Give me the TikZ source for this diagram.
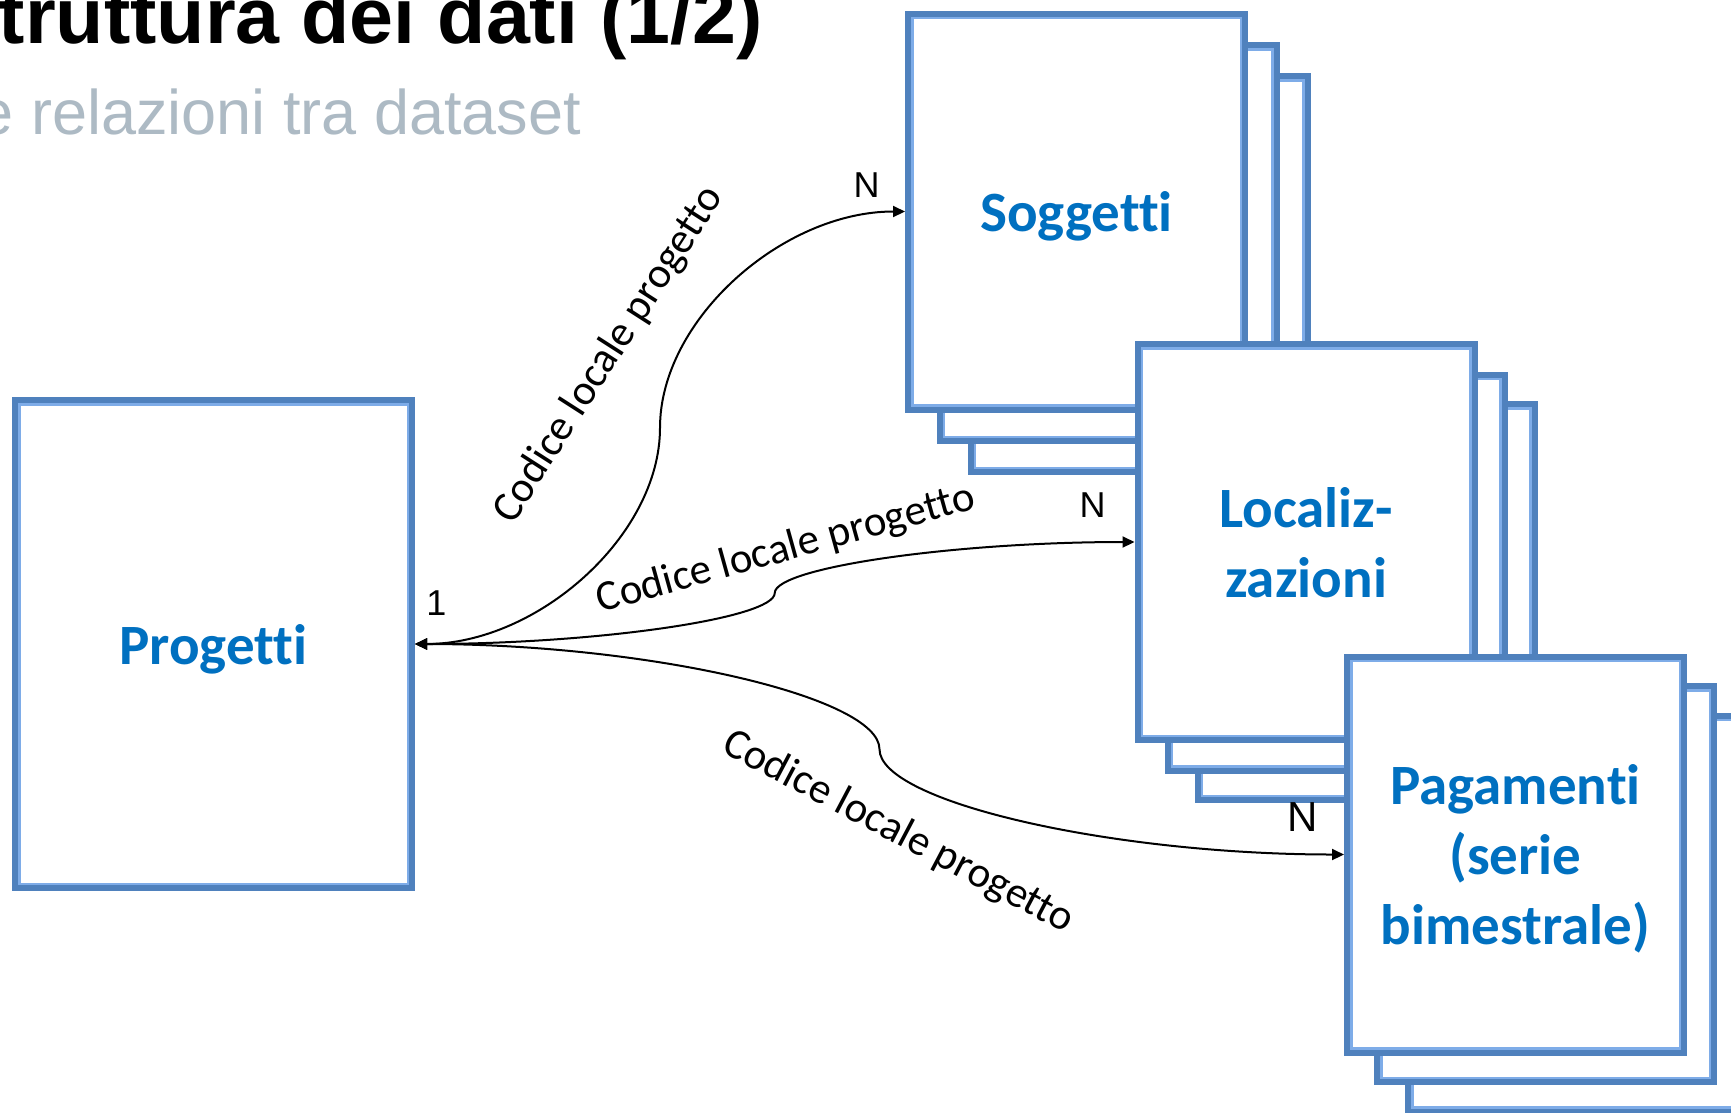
\documentclass[tikz,border=0pt]{standalone}
\usepackage{fontspec}
\usetikzlibrary{arrows.meta,calc}
\newfontfamily\carlito[Ligatures=NoCommon]{Carlito}
\newfontfamily\libsans{Liberation Sans}
\definecolor{boxdark}{RGB}{79,129,189}
\definecolor{boxlight}{RGB}{126,172,232}
\definecolor{txtblue}{RGB}{0,112,192}
\definecolor{subgrey}{RGB}{173,186,196}
\tikzset{
  dsbox/.style={draw=boxdark, line width=8pt, fill=white, outer sep=4pt, inner sep=0pt,
    minimum width=335pt, minimum height=394pt, text depth=0pt, align=center,
    font=\carlito\bfseries\fontsize{57}{70}\selectfont, text=txtblue},
  dsinner/.style={draw=boxlight, line width=2.5pt},
  conn/.style={draw=black, line width=2pt,
    {Triangle[length=12pt,width=11pt]}-{Triangle[length=12pt,width=11pt]}},
  lbl/.style={font=\carlito\fontsize{43}{50}\selectfont, inner sep=0pt},
  card/.style={font=\libsans\fontsize{36}{40}\selectfont, inner sep=0pt, text depth=0pt},
}
\newcommand\DSbox[4]{%
  \node[dsbox,#4] (#1) at (#2) {#3};
  \draw[dsinner] ([xshift=7.25pt,yshift=-7.25pt]#1.north west) rectangle ([xshift=-7.25pt,yshift=7.25pt]#1.south east);
}
\begin{document}
\begin{tikzpicture}[x=1pt,y=-1pt]
\useasboundingbox (0,0) rectangle (1731,1112);
\clip (0,0) rectangle (1731,1112);
\fill[white] (0,0) rectangle (1731,1112);

% title
\node[anchor=base west, inner sep=0pt, font=\libsans\bfseries\fontsize{79}{90}\selectfont] (title) at (-54,43) {Struttura dei dati (1/2)};
\node[anchor=base west, inner sep=0pt, text=subgrey, font=\libsans\fontsize{63}{70}\selectfont] (subtitle) at (-56.5,134) {Le relazioni tra dataset};

% Progetti
\DSbox{prog}{213.5,644}{Progetti}{minimum width=395pt, minimum height=486pt}

% Soggetti stack
\DSbox{sogg3}{1139,274}{}{}
\DSbox{sogg2}{1108,243}{}{}
\DSbox{sogg}{1076.5,211.5}{Soggetti}{}

% Localizzazioni stack
\DSbox{loc3}{1366,602}{}{}
\DSbox{loc2}{1336,572.5}{}{}
\DSbox{loc}{1306,542}{Localiz-\\zazioni}{}

% Pagamenti stack
\DSbox{pag3}{1576.5,913.5}{}{}
\DSbox{pag2}{1545.5,884}{}{}
\DSbox{pag}{1515.5,854.5}{Pagamenti\\(serie\\bimestrale)}{}

% connectors
\coordinate (m1) at ($(prog.east)!0.5!(sogg.west)$);
\coordinate (m2) at ($(prog.east)!0.5!(loc.west)$);
\coordinate (m3) at ($(prog.east)!0.5!(pag.west)$);
\draw[conn] (prog.east) .. controls +(122.5,0) and +(0,108) .. (m1)
  .. controls +(0,-108) and +(-122.5,0) .. (sogg.west);
\draw[conn] (prog.east) .. controls +(180,0) and +(0,25.5) .. (m2)
  .. controls +(0,-25.5) and +(-180,0) .. (loc.west);
\draw[conn] (prog.east) .. controls +(232.25,0) and +(0,-52.6) .. (m3)
  .. controls +(0,52.6) and +(-232.25,0) .. (pag.west);

% labels
\node[lbl, rotate=57.3] (lab1) at (609,355) {Codice locale progetto};
\node[lbl, rotate=15.5] (lab2) at (786,549.5) {Codice locale progetto};
\node[lbl, rotate=-27.8] (lab3) at (898,832.5) {Codice locale progetto};

\node[card] (one) at (436.5,603.5) {1};
\node[card] (n1) at (866.5,185.5) {N};
\node[card] (n2) at (1092.5,505.5) {N};
\node[card, font=\libsans\fontsize{42}{48}\selectfont] (n3) at (1302.5,817) {N};
\end{tikzpicture}
\end{document}
